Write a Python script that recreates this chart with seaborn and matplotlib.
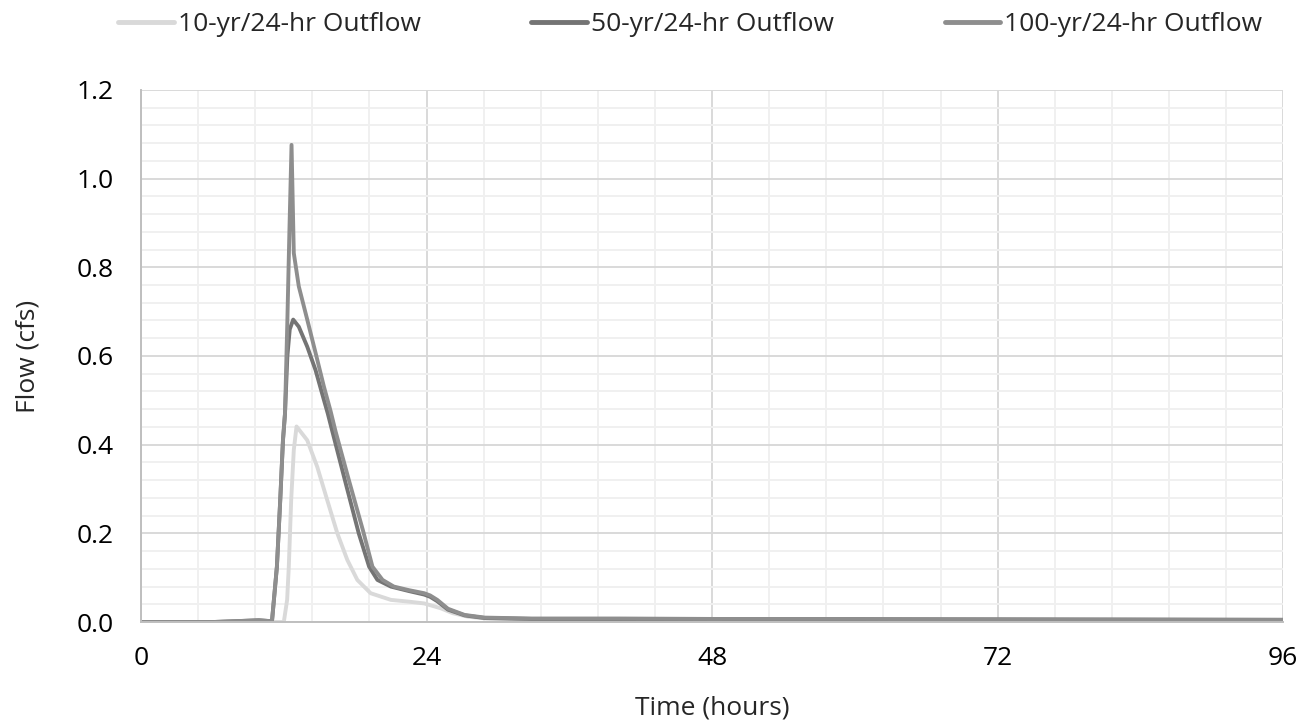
import numpy as np
import pandas as pd
import matplotlib
matplotlib.use("Agg")
import matplotlib.pyplot as plt
from matplotlib.ticker import MultipleLocator, FormatStrFormatter
import seaborn as sns

# outflow hydrographs (hours, cfs)
hrs_10 = [0, 12.0, 12.28, 12.42, 12.62, 12.84, 13.07, 13.97, 14.81, 15.65,
          16.5, 17.34, 18.18, 19.3, 21.0, 22.5, 23.8, 25.2, 26.2, 27.5, 29,
          32.8, 40, 48, 60, 72, 84, 96]
flow_10 = [0, 0, 0.05, 0.125, 0.275, 0.388, 0.441, 0.41, 0.35, 0.275,
           0.2, 0.14, 0.095, 0.065, 0.05, 0.046, 0.042, 0.031, 0.02, 0.012, 0.008,
           0.006, 0.005, 0.005, 0.004, 0.004, 0.004, 0.003]

hrs_50 = [0, 6, 8, 9.9, 10.9, 11.0, 11.42, 11.7, 11.93, 12.1, 12.3, 12.5,
          12.79, 13.26, 13.97, 14.67, 15.37, 15.7, 16.08, 17.28, 18.3, 19.17,
          19.87, 21.0, 22.5, 23.8, 24.3, 24.9, 25.8, 27.2, 28.9, 32.8, 40, 48,
          60, 72, 84, 96]
flow_50 = [0, 0, 0.002, 0.004, 0.002, 0, 0.125, 0.275, 0.41, 0.47, 0.6, 0.66,
           0.682, 0.666, 0.621, 0.568, 0.501, 0.47, 0.43, 0.305, 0.2, 0.125,
           0.095, 0.08, 0.07, 0.062, 0.057, 0.047, 0.028, 0.015, 0.009, 0.007,
           0.007, 0.007, 0.006, 0.006, 0.005, 0.005]

hrs_100 = [0, 6, 8, 9.9, 10.9, 11.0, 11.42, 11.7, 11.93, 12.1, 12.3, 12.47,
           12.65, 12.84, 13.26, 13.97, 14.67, 15.37, 15.93, 16.35, 17.47, 18.67,
           19.45, 20.3, 21.25, 22.5, 23.8, 24.3, 24.9, 25.8, 27.2, 28.9, 32.8,
           40, 48, 60, 72, 84, 96]
flow_100 = [0, 0, 0.002, 0.004, 0.002, 0, 0.125, 0.275, 0.41, 0.47, 0.68, 0.88,
            1.076, 0.832, 0.757, 0.682, 0.607, 0.531, 0.476, 0.43, 0.32, 0.205,
            0.125, 0.095, 0.08, 0.072, 0.065, 0.06, 0.05, 0.03, 0.016, 0.010,
            0.008, 0.008, 0.007, 0.007, 0.006, 0.006, 0.005]

series = ["10-yr/24-hr Outflow", "50-yr/24-hr Outflow", "100-yr/24-hr Outflow"]
colors = ["#d9d9d9", "#747474", "#8e8e8e"]

df = pd.concat([
    pd.DataFrame({"Time": hrs_10, "Flow": flow_10, "Storm": series[0]}),
    pd.DataFrame({"Time": hrs_50, "Flow": flow_50, "Storm": series[1]}),
    pd.DataFrame({"Time": hrs_100, "Flow": flow_100, "Storm": series[2]}),
])

sns.set_theme(style="white")
plt.rcParams["font.family"] = ["Open Sans", "DejaVu Sans"]

fig = plt.figure(figsize=(13.12, 7.25), dpi=100)
ax = fig.add_axes([0.1075, 0.142, 0.8705, 0.734])

sns.lineplot(data=df, x="Time", y="Flow", hue="Storm", hue_order=series,
             palette=colors, linewidth=2.8, sort=False, estimator=None,
             ax=ax, legend=False)

ax.set_xlim(0, 96)
ax.set_ylim(0, 1.2)
ax.xaxis.set_major_locator(MultipleLocator(24))
ax.xaxis.set_minor_locator(MultipleLocator(4.8))
ax.yaxis.set_major_locator(MultipleLocator(0.2))
ax.yaxis.set_minor_locator(MultipleLocator(0.04))
ax.yaxis.set_major_formatter(FormatStrFormatter("%.1f"))

ax.grid(which="major", color="#d9d9d9", linewidth=1.4)
ax.grid(which="minor", color="#f0f0f0", linewidth=1.4)
ax.set_axisbelow(True)

for s in ["top", "right"]:
    ax.spines[s].set_visible(False)
for s in ["left", "bottom"]:
    ax.spines[s].set_color("#bfbfbf")
    ax.spines[s].set_linewidth(1.4)

ax.tick_params(which="major", direction="out", length=6, width=1.2,
               color="#bfbfbf", labelsize=19, labelcolor="#000000")
ax.tick_params(axis="x", pad=11)
ax.tick_params(axis="y", pad=14)
ax.tick_params(which="minor", length=0)

ax.set_xlabel("Time (hours)", fontsize=19, labelpad=18)
ax.set_ylabel("Flow (cfs)", fontsize=19, labelpad=26)

handles = [plt.Line2D([], [], color=c, linewidth=3.5) for c in colors]
fig.legend(handles, series, loc="center", bbox_to_anchor=(0.526, 0.966),
           ncol=3, frameon=False, fontsize=19, handlelength=2.1,
           handletextpad=0.15, columnspacing=4.2)

fig.savefig("out.png", dpi=100)
